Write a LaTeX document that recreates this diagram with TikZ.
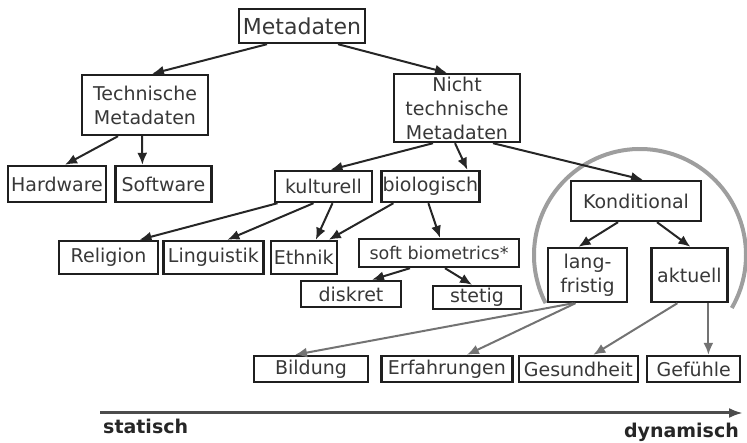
\documentclass[tikz,border=0pt]{standalone}
\usepackage{fontspec}
\setmainfont{DejaVu Sans}
\usetikzlibrary{positioning,arrows.meta}
\definecolor{inkgray}{gray}{0.22}
\tikzset{%
box/.style={draw=black!88,fill=white,rectangle,line width=2.4pt,inner sep=1pt,text=inkgray,font=\fontsize{19}{24}\selectfont,align=center},
big/.style={font=\fontsize{22}{26}\selectfont},
small/.style={font=\fontsize{17.5}{21}\selectfont},
link/.style={-{Latex[length=12pt,width=10pt]},line width=2pt,color=black!85},
softlink/.style={link,color=black!55},
ring/.style={draw=black!38,line width=4pt},
axis/.style={-{Latex[length=14pt,width=10pt]},line width=3pt,draw=black!70},
axislabel/.style={font=\bfseries\fontsize{19}{22}\selectfont,text=black!85,inner sep=0pt}
}
\begin{document}
\begin{tikzpicture}[x=1pt,y=-1pt]

    \useasboundingbox (0,0) rectangle (747,443);

    \coordinate (ringc) at (640,255);
    \draw[ring] ([shift={(207:106pt)}]ringc) arc[start angle=207,end angle=-30,radius=106pt];


    \node[box,big,minimum width=126pt,minimum height=34pt] (meta) at (302,26) {Metadaten};


    \node[box,minimum width=126pt,minimum height=60pt] (tech) at (145,105) {Technische\\Metadaten};
    \node[box,minimum width=98pt,minimum height=36pt] (hw) at (57,184) {Hardware};
    \node[box,minimum width=96pt,minimum height=36pt] (sw) [right=7pt of hw] {Software};


    \node[box,minimum width=126pt,minimum height=68pt] (nicht) at (457,108) {Nicht\\technische\\Metadaten};
    \node[box,minimum width=97pt,minimum height=31pt] (kult) at (323.5,186.5) {kulturell};
    \node[box,minimum width=98pt,minimum height=31pt] (bio) [right=7pt of kult] {biologisch};
    \node[box,minimum width=130pt,minimum height=40pt] (kond) at (636,201) {Konditional};

    \node[box,minimum width=99pt,minimum height=33pt] (rel) at (108.5,257.5) {Religion};
    \node[box,minimum width=100pt,minimum height=33pt] (ling) [right=3pt of rel] {Linguistik};
    \node[box,minimum width=66pt,minimum height=33pt] (eth) [right=5pt of ling] {Ethnik};

    \node[box,small,minimum width=160pt,minimum height=28pt] (soft) at (439,253) {soft biometrics*};
    \node[box,minimum width=100pt,minimum height=26pt] (disk) at (351,294) {diskret};
    \node[box,minimum width=88pt,minimum height=23pt] (stet) at (477,297.5) {stetig};

    \node[box,minimum width=79pt,minimum height=54pt] (lang) at (587.5,275) {lang-\\fristig};
    \node[box,minimum width=76pt,minimum height=54pt] (akt) [right=22pt of lang] {aktuell};


    \node[box,minimum width=114pt,minimum height=26pt] (bild) at (311,369) {Bildung};
    \node[box,minimum width=131pt,minimum height=26pt] (erf) [right=11pt of bild] {Erfahrungen};
    \node[box,minimum width=119pt,minimum height=26pt] (ges) [right=4pt of erf] {Gesundheit};
    \node[box,minimum width=93pt,minimum height=26pt] (gef) [right=7pt of ges] {Gefühle};

    \path[link] ([xshift=-35pt]meta.south) edge ([xshift=7pt]tech.north)
                ([xshift=36pt]meta.south) edge ([xshift=-10pt]nicht.north);

    \path[link] ([xshift=-27pt]tech.south) edge ([xshift=8pt]hw.north)
                ([xshift=-3pt]tech.south) edge ([xshift=-21pt]sw.north);

    \path[link] ([xshift=-24pt]nicht.south) edge ([xshift=7pt]kult.north)
                ([xshift=-2pt]nicht.south) edge ([xshift=37pt]bio.north)
                ([xshift=36pt]nicht.south) edge ([xshift=7pt]kond.north);

    \path[link] ([xshift=-46pt]kult.south) edge ([xshift=31pt]rel.north)
                ([xshift=-10pt]kult.south) edge ([xshift=14pt]ling.north)
                ([xshift=9pt]kult.south) edge ([xshift=12pt]eth.north);

    \path[link] ([xshift=-37pt]bio.south) edge ([xshift=25pt]eth.north)
                ([xshift=-2pt]bio.south) edge ([xshift=1pt]soft.north);

    \path[link] ([xshift=-29pt]soft.south) edge ([xshift=21pt]disk.north)
                ([xshift=6pt]soft.south) edge ([xshift=-5pt]stet.north);

    \path[link] ([xshift=-18pt]kond.south) edge ([xshift=-9pt]lang.north)
                ([xshift=21pt]kond.south) edge ([xshift=1pt]akt.north);

    \path[softlink] ([xshift=-14pt]lang.south) edge ([xshift=-16pt]bild.north)
                    ([xshift=-12pt]lang.south) edge ([xshift=20pt]erf.north);

    \path[softlink] ([xshift=-12pt]akt.south) edge ([xshift=15pt]ges.north)
                    ([xshift=19pt]akt.south) edge ([xshift=19pt]akt.south |- gef.north);


    \coordinate (axl) at (100,413);
    \coordinate (axr) at (743,413);
    \draw[axis] (axl) -- (axr);
    \node[axislabel,anchor=base west] (stat) at (103,433) {statisch};
    \node[axislabel,anchor=base east] (dyn) at (739,438) {dynamisch};
  \end{tikzpicture}
\end{document}
